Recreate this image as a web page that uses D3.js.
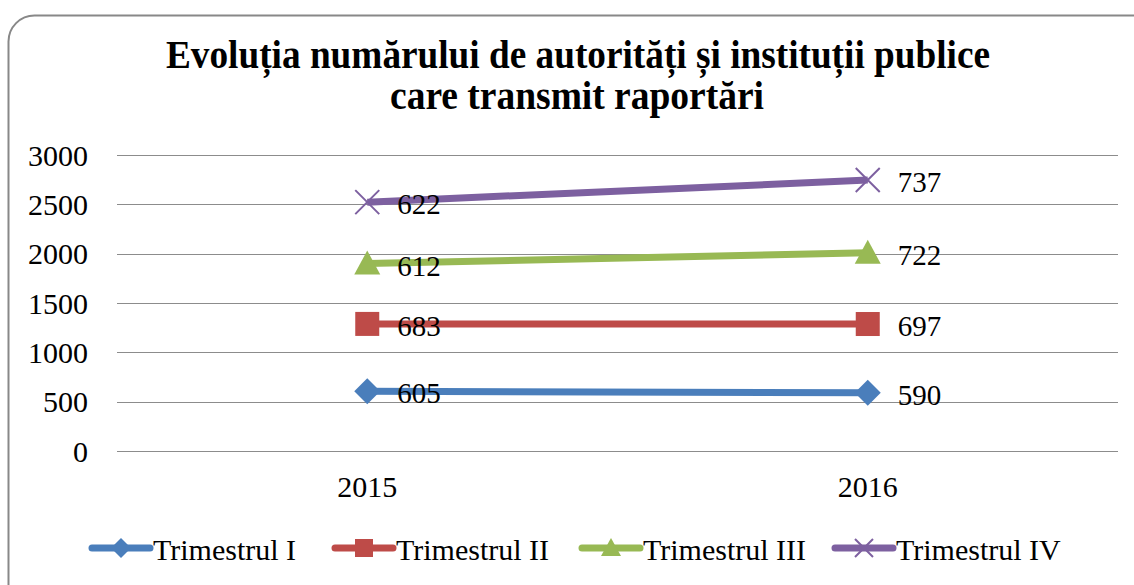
<!DOCTYPE html>
<html>
<head>
<meta charset="utf-8">
<script src="https://cdn.jsdelivr.net/npm/d3@7"></script>
<style>
  body { margin: 0; background: #fff; }
</style>
</head>
<body>
<div id="chart"></div>
<script>
var years = ["2015", "2016"];
var seriesNames = ["Trimestrul I", "Trimestrul II", "Trimestrul III", "Trimestrul IV"];
var trim1 = [605, 590];
var trim2 = [683, 697];
var trim3 = [612, 722];
var trim4 = [622, 737];
var yTicks = [0, 500, 1000, 1500, 2000, 2500, 3000];
var colors = ["#4A7EBB", "#BE4B48", "#98B954", "#7D60A0"];
var markers = ["diamond", "square", "triangle", "cross"];

var W = 1134, H = 585;
var m = {top: 155, right: 16, bottom: 134, left: 117};
var w = W - m.left - m.right, h = H - m.top - m.bottom;
var serif = "Liberation Serif";

var svg = d3.select("#chart").append("svg")
    .attr("width", W).attr("height", H)
    .attr("font-family", serif);

// outer frame
svg.append("rect")
    .attr("x", 8.5).attr("y", 15.5)
    .attr("width", W + 30).attr("height", H + 30)
    .attr("rx", 26)
    .attr("fill", "none").attr("stroke", "#888").attr("stroke-width", 2);

// title
var title = svg.append("text")
    .attr("text-anchor", "middle")
    .attr("font-family", serif)
    .attr("font-weight", "bold")
    .attr("font-size", 40);
title.append("tspan").attr("x", 578).attr("y", 68).attr("textLength", 824).attr("lengthAdjust", "spacingAndGlyphs")
    .text("Evoluția numărului de autorități și instituții publice");
title.append("tspan").attr("x", 577).attr("y", 109).attr("textLength", 374).attr("lengthAdjust", "spacingAndGlyphs")
    .text("care transmit raportări");

var g = svg.append("g").attr("transform", "translate(" + m.left + "," + m.top + ")");

var x = d3.scaleBand().domain(years).range([0, w]);
var y = d3.scaleLinear().domain([0, 3000]).range([h, 0]);

// stacked values
var raw = [trim1, trim2, trim3, trim4];
var stacked = raw.map(function(s, i) {
    return s.map(function(v, j) {
        var sum = 0;
        for (var k = 0; k <= i; k++) sum += raw[k][j];
        return {year: years[j], value: v, top: sum};
    });
});

// grid
g.selectAll(".grid").data(yTicks).enter().append("line")
    .attr("x1", 0).attr("x2", w)
    .attr("y1", function(d) { return Math.round(y(d)) + 0.5; })
    .attr("y2", function(d) { return Math.round(y(d)) + 0.5; })
    .attr("stroke", "#8c8c8c").attr("stroke-width", 1);

g.selectAll(".ylab").data(yTicks).enter().append("text")
    .attr("x", -29).attr("y", function(d) { return y(d); })
    .attr("dy", "0.35em").attr("text-anchor", "end")
    .attr("font-size", 30)
    .text(function(d) { return d; });

g.selectAll(".xlab").data(years).enter().append("text")
    .attr("x", function(d) { return x(d) + x.bandwidth() / 2; })
    .attr("y", h + 46).attr("text-anchor", "middle")
    .attr("font-size", 30)
    .text(function(d) { return d; });

function drawMarker(sel, type, color, size) {
    var s = size / 2;
    if (type == "diamond") {
        sel.append("path").attr("d", "M0," + (-s) + "L" + s + ",0L0," + s + "L" + (-s) + ",0Z").attr("fill", color);
    } else if (type == "square") {
        sel.append("rect").attr("x", -s + 1).attr("y", -s + 1).attr("width", size - 2).attr("height", size - 2).attr("fill", color);
    } else if (type == "triangle") {
        sel.append("path").attr("d", "M0," + (-s) + "L" + s + "," + (s - 2) + "L" + (-s) + "," + (s - 2) + "Z").attr("fill", color);
    } else {
        sel.append("path").attr("d", "M" + (-s + 1) + "," + (-s + 1) + "L" + (s - 1) + "," + (s - 1) + "M" + (s - 1) + "," + (-s + 1) + "L" + (-s + 1) + "," + (s - 1))
            .attr("stroke", color).attr("stroke-width", 2).attr("fill", "none");
    }
}

var line = d3.line()
    .x(function(d) { return x(d.year) + x.bandwidth() / 2; })
    .y(function(d) { return y(d.top); });

stacked.forEach(function(s, i) {
    g.append("path").datum(s)
        .attr("d", line)
        .attr("fill", "none").attr("stroke", colors[i]).attr("stroke-width", 7);
    s.forEach(function(d) {
        var pg = g.append("g").attr("transform", "translate(" + (x(d.year) + x.bandwidth() / 2) + "," + y(d.top) + ")");
        drawMarker(pg, markers[i], colors[i], 26);
        pg.append("text").attr("x", 30).attr("y", 2).attr("dy", "0.35em")
            .attr("font-size", 29)
            .text(d.value);
    });
});

// legend
var legX = [90, 333, 580, 833];
var leg = svg.selectAll(".leg").data(seriesNames).enter().append("g")
    .attr("transform", function(d, i) { return "translate(" + legX[i] + ",548)"; });
leg.append("line").attr("x1", 2).attr("x2", 60).attr("y1", 0).attr("y2", 0)
    .attr("stroke", function(d, i) { return colors[i]; }).attr("stroke-width", 7).attr("stroke-linecap", "round");
leg.each(function(d, i) {
    var mg = d3.select(this).append("g").attr("transform", "translate(31,0)");
    drawMarker(mg, markers[i], colors[i], 20);
});
leg.append("text").attr("x", 63).attr("y", 1).attr("dy", "0.35em")
    .attr("font-size", 30)
    .text(function(d) { return d; });
</script>
</body>
</html>
